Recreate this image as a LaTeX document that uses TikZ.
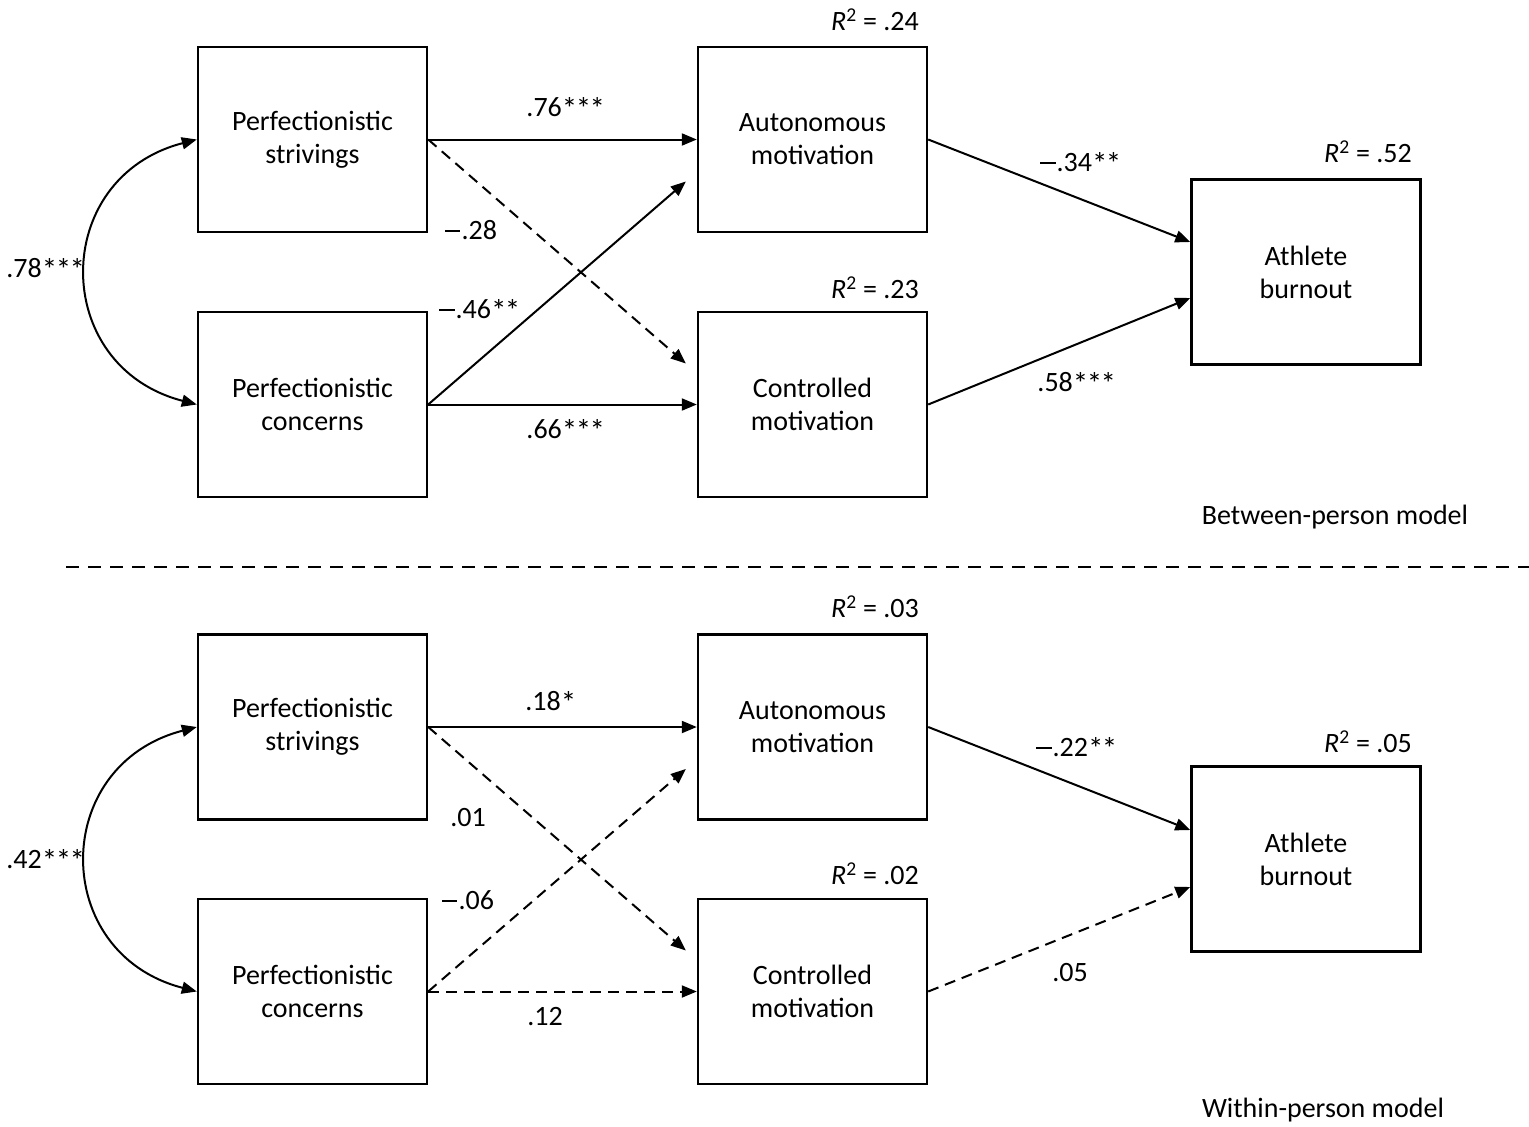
\documentclass[tikz,border=0pt]{standalone}
\usepackage{fontspec}
\setmainfont{Carlito}
\usetikzlibrary{arrows.meta,calc}
\newcommand\mns{\rule[0.27em]{0.55em}{0.07em}\hspace{0.04em}}
\newcommand\sig{{\fontsize{31}{33}\selectfont\raisebox{-0.09em}{*}\kern-0.05em}}
\begin{document}
\begin{tikzpicture}[x=1pt,y=-1pt,
  every node/.style={font=\fontsize{28}{33}\selectfont},
  varbox/.style={draw,line width=2.4pt,minimum width=229,minimum height=185,align=center,inner sep=0pt},
  path/.style={line width=2pt,-{Triangle[length=15pt,width=12pt]}},
  dpath/.style={path,dash pattern=on 11pt off 7pt},
  lab/.style={inner sep=0pt,anchor=center}]
\useasboundingbox (0,0) rectangle (1529,1127);
% ---------- Between-person model ----------
\node[varbox] (PS1) at (312.5,139.5) {Perfectionistic\\strivings};
\node[varbox] (PC1) at (312.5,404.5) {Perfectionistic\\concerns};
\node[varbox] (AM1) at (812.5,139.5) {Autonomous\\motivation};
\node[varbox] (CM1) at (812.5,404.5) {Controlled\\motivation};
\node[varbox] (AB1) at (1306,272) {Athlete\\burnout};
\coordinate (t1a) at ($(AM1.west)+(-11,42)$);
\coordinate (t1b) at ($(CM1.west)+(-11,-41)$);
\draw[path] (PS1.east) -- (AM1.west);
\draw[dpath] (PS1.east) -- (t1b);
\draw[path] (PC1.east) -- (t1a);
\draw[path] (PC1.east) -- (CM1.west);
\draw[path] (AM1.east) -- ($(AB1.west)+(0,-30)$);
\draw[path] (CM1.east) -- ($(AB1.west)+(0,26)$);
\draw[line width=2pt,{Triangle[length=15pt,width=12pt]}-{Triangle[length=15pt,width=12pt]}]
  (PS1.west) .. controls +(-147,38) and +(-147,-38) .. (PC1.west);
\node[lab] (c1) at (45,269) {.78\sig\sig\sig};
\node[lab] (l1) at (565,108) {.76\sig\sig\sig};
\node[lab] (l2) at (471,230) {\mns.28};
\node[lab] (l3) at (479,310) {\mns.46\sig\sig};
\node[lab] (l4) at (565,430) {.66\sig\sig\sig};
\node[lab] (l5) at (1080,163) {\mns.34\sig\sig};
\node[lab] (l6) at (1076,383) {.58\sig\sig\sig};
\node[lab] (r1) at (875,20) {\textit{R}\textsuperscript{2} = .24};
\node[lab] (r2) at (875,288) {\textit{R}\textsuperscript{2} = .23};
\node[lab] (r3) at (1368,152) {\textit{R}\textsuperscript{2} = .52};
\node[lab] (m1) at (1335,517) {Between-person model};
% ---------- separator ----------
\coordinate (s1) at (66,567);
\coordinate (s2) at (1529,567);
\draw[line width=2.4pt,dash pattern=on 13pt off 9pt] (s1) -- (s2);
% ---------- Within-person model ----------
\node[varbox] (PS2) at (312.5,727) {Perfectionistic\\strivings};
\node[varbox] (PC2) at (312.5,991.5) {Perfectionistic\\concerns};
\node[varbox] (AM2) at (812.5,727) {Autonomous\\motivation};
\node[varbox] (CM2) at (812.5,991.5) {Controlled\\motivation};
\node[varbox] (AB2) at (1306,859) {Athlete\\burnout};
\coordinate (t2a) at ($(AM2.west)+(-11,42)$);
\coordinate (t2b) at ($(CM2.west)+(-11,-41)$);
\draw[path] (PS2.east) -- (AM2.west);
\draw[dpath] (PS2.east) -- (t2b);
\draw[dpath] (PC2.east) -- (t2a);
\draw[dpath] (PC2.east) -- (CM2.west);
\draw[path] (AM2.east) -- ($(AB2.west)+(0,-29)$);
\draw[dpath] (CM2.east) -- ($(AB2.west)+(0,28)$);
\draw[line width=2pt,{Triangle[length=15pt,width=12pt]}-{Triangle[length=15pt,width=12pt]}]
  (PS2.west) .. controls +(-147,38) and +(-147,-38) .. (PC2.west);
\node[lab] (c2) at (45,860) {.42\sig\sig\sig};
\node[lab] (k1) at (550,702) {.18\sig};
\node[lab] (k2) at (468,818) {.01};
\node[lab] (k3) at (468,900) {\mns.06};
\node[lab] (k4) at (545,1017) {.12};
\node[lab] (k5) at (1076,748) {\mns.22\sig\sig};
\node[lab] (k6) at (1070,973) {.05};
\node[lab] (r4) at (875,607) {\textit{R}\textsuperscript{2} = .03};
\node[lab] (r5) at (875,874) {\textit{R}\textsuperscript{2} = .02};
\node[lab] (r6) at (1368,742) {\textit{R}\textsuperscript{2} = .05};
\node[lab] (m2) at (1323,1110) {Within-person model};
\end{tikzpicture}
\end{document}
